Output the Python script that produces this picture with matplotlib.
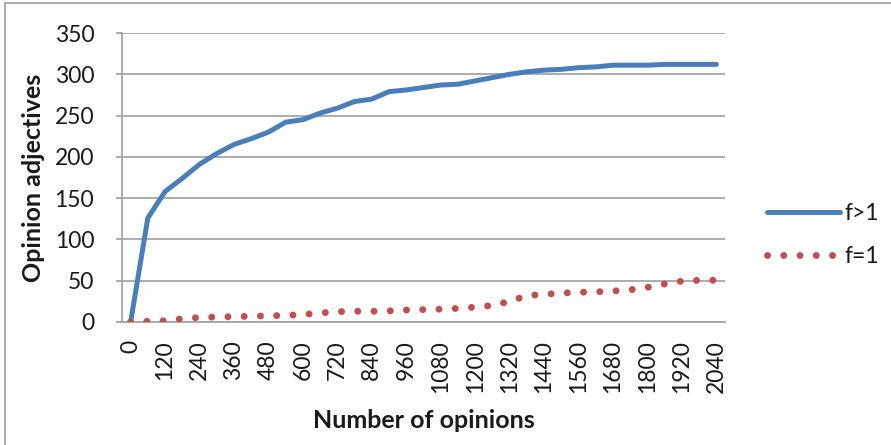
import matplotlib
matplotlib.use("Agg")
import matplotlib.pyplot as plt
from matplotlib.lines import Line2D

# Number of opinions sampled (every 60)
opinions = list(range(0, 2041, 60))

# Distinct opinion adjectives with frequency > 1
adj_f_gt1 = [0, 126, 158, 174, 191, 204, 215, 222, 230, 242, 245, 253, 259, 267,
             270, 279, 281, 284, 287, 288, 292, 296, 300, 303, 305, 306, 308, 309,
             311, 311, 311, 312, 312, 312, 312]

# Distinct opinion adjectives with frequency = 1
adj_f_eq1 = [0, 1, 1.5, 4, 5.5, 6, 6.5, 7, 7.5, 8, 9, 11, 12.5, 13, 13, 13.5,
             14.5, 15, 15.5, 16.5, 18, 20, 25, 32, 33.5, 35, 36, 36.5, 37.5, 39,
             42, 46, 49.5, 50.5, 50.5]

x_tick_labels = list(range(0, 2041, 120))
y_ticks = list(range(0, 351, 50))

BLUE = "#4A7EBB"
RED = "#C0504D"
GRID = "#A6A6A6"
TEXT = "#1a1a1a"
FONT = "Lato"

plt.rcParams["font.family"] = [FONT, "DejaVu Sans"]

fig = plt.figure(figsize=(8.91, 4.45), dpi=100)
ax = fig.add_axes([122 / 891, 1 - 322 / 445, 603 / 891, 289 / 445])

ax.plot(opinions, adj_f_gt1, color=BLUE, lw=3.6, solid_capstyle="round",
        solid_joinstyle="round", label="f>1", zorder=3)
ax.plot(opinions, adj_f_eq1, color=RED, lw=5.0, linestyle=(0, (0.01, 2.33)),
        dash_capstyle="round", label="f=1", zorder=3)

ax.set_xlim(-30, 2070)
ax.set_ylim(0, 350)
ax.set_yticks(y_ticks)
ax.set_xticks(x_tick_labels)
ax.set_xticklabels([str(v) for v in x_tick_labels], rotation=90)

ax.grid(axis="y", color=GRID, lw=1.3)
ax.set_axisbelow(True)
for side in ("top", "right"):
    ax.spines[side].set_visible(False)
for side in ("left", "bottom"):
    ax.spines[side].set_color(GRID)
    ax.spines[side].set_linewidth(1.3)

ax.tick_params(axis="y", length=4, width=1.3, color=GRID, pad=16,
               labelsize=16.5, labelcolor=TEXT)
ax.tick_params(axis="x", length=0, pad=13, labelsize=16.5, labelcolor=TEXT)

fig.text(424 / 891, 1 - 420 / 445, "Number of opinions", ha="center",
         va="center", fontsize=18, fontweight="bold", color=TEXT)
fig.text(34 / 891, 1 - 178 / 445, "Opinion adjectives", ha="center",
         va="center", rotation=90, fontsize=18, fontweight="bold",
         color=TEXT)

leg = ax.legend(loc="center left", bbox_to_anchor=(767 / 891, 1 - 235 / 445),
                bbox_transform=fig.transFigure, frameon=False, fontsize=16.5,
                handlelength=3.2, handletextpad=0.2, labelspacing=1.0,
                borderpad=0, borderaxespad=0)
for t in leg.get_texts():
    t.set_color(TEXT)

# Outer chart border (left and top edges)
fig.add_artist(Line2D([5 / 891, 5 / 891], [0, 1 - 3 / 445],
                      transform=fig.transFigure, color=GRID, lw=1.3))
fig.add_artist(Line2D([5 / 891, 1], [1 - 3 / 445, 1 - 3 / 445],
                      transform=fig.transFigure, color=GRID, lw=1.3))

fig.savefig("out.png", dpi=100)
